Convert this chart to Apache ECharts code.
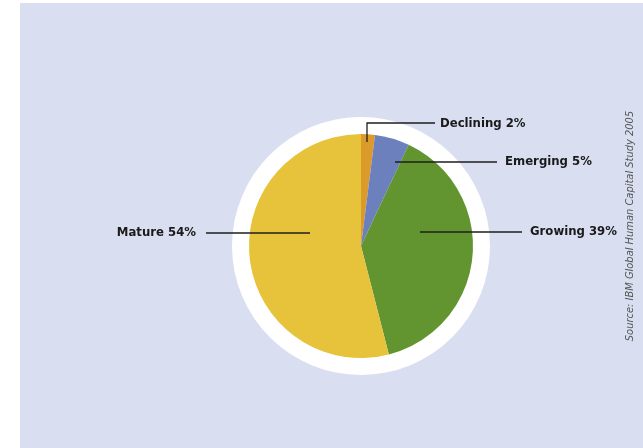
<!DOCTYPE html>
<html>
<head>
<meta charset="utf-8">
<script src="https://cdn.jsdelivr.net/npm/echarts@6/dist/echarts.min.js"></script>
<style>
  html, body { margin: 0; padding: 0; background: #fff; }
  #chart { width: 643px; height: 448px; }
</style>
</head>
<body>
<div id="chart"></div>
<script>
  var categories = ['Declining', 'Emerging', 'Growing', 'Mature'];
  var values = [2, 5, 39, 54];
  var colors = ['#dc9a2b', '#6b80bd', '#62952f', '#e7c23b'];

  // where each label sits and how its leader line runs
  var labelPos = [
    {x: 440, y: 124, align: 'left', line: [[367, 142], [367, 123], [435, 123]]},
    {x: 505, y: 162, align: 'left', line: [[395, 162], [497, 162]]},
    {x: 530, y: 232, align: 'left', line: [[420, 232], [522, 232]]},
    {x: 196, y: 233, align: 'right', line: [[310, 233], [206, 233]]}
  ];
  var narrow = '"DejaVu Sans Condensed", "Liberation Sans Narrow", "Liberation Sans", sans-serif';

  var pieData = [];
  for (var i = 0; i < categories.length; i++) {
    pieData.push({name: categories[i], value: values[i], itemStyle: {color: colors[i]}});
  }

  var graphics = [
    {type: 'rect', z: -10, silent: true, shape: {x: 20, y: 3, width: 630, height: 450}, style: {fill: '#d9def0'}},
    {
      type: 'text', silent: true, x: 630, y: 226, rotation: Math.PI / 2,
      style: {
        text: 'Source: IBM Global Human Capital Study 2005',
        fill: '#555', font: 'italic 11px ' + narrow,
        align: 'center', verticalAlign: 'middle'
      }
    }
  ];
  labelPos.forEach(function (p) {
    graphics.push({type: 'polyline', silent: true, z: 100, shape: {points: p.line}, style: {stroke: '#1e1e1e', lineWidth: 1.3, fill: null}});
  });

  var chart = echarts.init(document.getElementById('chart'));
  chart.setOption({
    backgroundColor: '#ffffff',
    animation: false,
    graphic: graphics,
    series: [
      {
        type: 'pie', silent: true, z: 1,
        center: [361, 246], radius: [0, 129],
        label: {show: false}, labelLine: {show: false},
        data: [{value: 1, itemStyle: {color: '#ffffff'}}]
      },
      {
        type: 'pie', silent: true, z: 2,
        center: [361, 246], radius: [0, 112],
        startAngle: 90, clockwise: true,
        avoidLabelOverlap: false,
        label: {
          show: true,
          formatter: function (p) { return p.name + ' ' + p.value + '%'; },
          color: '#1a1a1a', fontWeight: 'bold', fontSize: 13,
          fontFamily: narrow
        },
        labelLine: {show: false},
        labelLayout: function (params) {
          var p = labelPos[params.dataIndex];
          return {x: p.x, y: p.y, align: p.align, verticalAlign: 'middle'};
        },
        data: pieData
      }
    ]
  });
</script>
</body>
</html>
